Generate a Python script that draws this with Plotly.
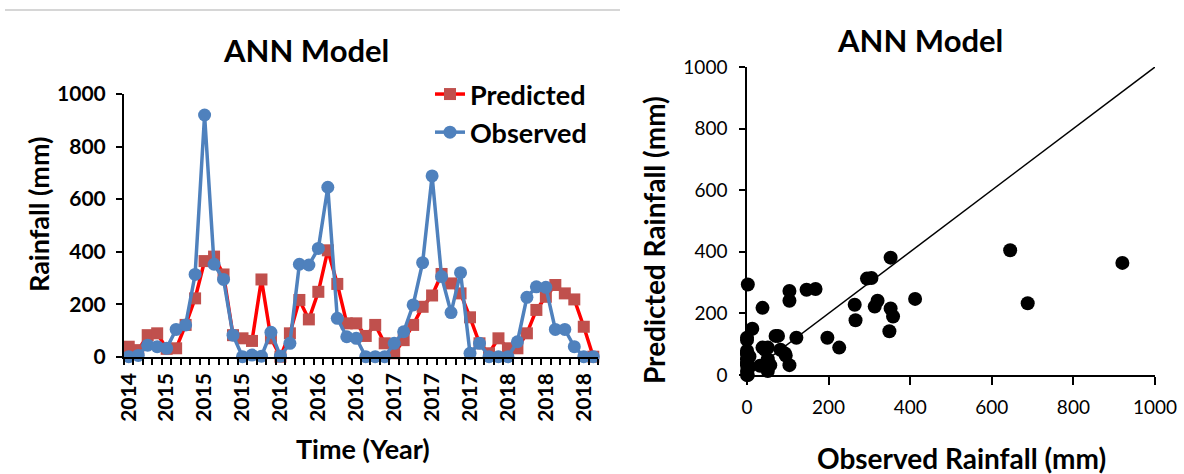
import plotly.graph_objects as go

W, H = 1184, 474

tick_labels = ["2014", "2015", "2015", "2015", "2016", "2016", "2016",
               "2017", "2017", "2017", "2018", "2018", "2018"]

observed = [0, 5, 44, 38, 32, 104, 121, 313, 920, 352,
            294, 82, 0, 6, 2, 93, 2, 51, 352, 349,
            412, 645, 146, 76, 70, 0, 0, 0, 51, 95,
            197, 358, 688, 305, 168, 320, 13, 51, 0, 0,
            0, 57, 226, 266, 264, 104, 104, 38, 0, 0]

predicted = [38, 25, 82, 89, 30, 32, 121, 222, 364, 381,
             313, 82, 70, 60, 294, 70, 0, 89, 216, 142,
             247, 405, 277, 127, 127, 79, 121, 51, 13, 63,
             121, 190, 233, 315, 279, 241, 150, 51, 13, 70,
             32, 32, 89, 178, 228, 273, 241, 218, 114, 0]

idx = list(range(len(observed)))
label_pos = idx[::4]

FONT = "Lato"


def px(xp):
    return xp / W


def py(yp):
    return 1 - yp / H


fig = go.Figure()
fig.add_trace(go.Scatter(
    x=idx, y=predicted, name="Predicted", mode="lines+markers",
    line=dict(color="#FF0000", width=3.5),
    marker=dict(symbol="square", size=12, color="#C0504D"),
    xaxis="x", yaxis="y", cliponaxis=False, legendgroup="p"))
fig.add_trace(go.Scatter(
    x=idx, y=observed, name="Observed", mode="lines+markers",
    line=dict(color="#4F81BD", width=3.5),
    marker=dict(symbol="circle", size=13, color="#4F81BD"),
    xaxis="x", yaxis="y", cliponaxis=False, legendgroup="o"))
fig.add_trace(go.Scatter(
    x=[0, 1000], y=[0, 1000], mode="lines",
    line=dict(color="black", width=1.5),
    xaxis="x2", yaxis="y2", showlegend=False))
fig.add_trace(go.Scatter(
    x=observed, y=predicted, mode="markers",
    marker=dict(color="black", size=14),
    xaxis="x2", yaxis="y2", showlegend=False, cliponaxis=False))

bold_tick = dict(family=FONT, size=21, color="black", weight="bold")
reg_tick = dict(family=FONT, size=19, color="black")

fig.update_layout(
    width=W, height=H,
    margin=dict(l=0, r=0, t=0, b=0, autoexpand=False),
    paper_bgcolor="white", plot_bgcolor="white",
    font=dict(family=FONT, color="black"),
    xaxis=dict(
        domain=[px(124), px(598)], range=[-0.5, 49.5], anchor="y",
        tickmode="array", tickvals=label_pos, ticktext=tick_labels,
        tickangle=-90, ticks="", tickfont=bold_tick, ticklabelstandoff=6,
        showline=True, linecolor="black", linewidth=2,
        showgrid=False, zeroline=False, automargin=False,
        minor=dict(ticks="outside", tickmode="linear", tick0=-0.5, dtick=1,
                   ticklen=6, tickwidth=2, tickcolor="black", showgrid=False)),
    yaxis=dict(
        domain=[py(356.7), py(94)], range=[0, 1000], anchor="x",
        tickmode="linear", tick0=0, dtick=200,
        ticks="outside", ticklen=6, tickwidth=2, tickcolor="black",
        tickfont=bold_tick, ticklabelstandoff=6,
        showline=True, linecolor="black", linewidth=2,
        showgrid=False, zeroline=False, automargin=False),
    xaxis2=dict(
        domain=[px(747), px(1155)], range=[0, 1000], anchor="y2",
        tickmode="linear", tick0=0, dtick=200,
        ticks="outside", ticklen=8, tickwidth=1.5, tickcolor="black",
        tickfont=reg_tick, ticklabelstandoff=6,
        showline=True, linecolor="black", linewidth=1.5,
        showgrid=False, zeroline=False, automargin=False),
    yaxis2=dict(
        domain=[py(375), py(67)], range=[0, 1000], anchor="x2",
        tickmode="linear", tick0=0, dtick=200,
        ticks="outside", ticklen=6, tickwidth=1.5, tickcolor="black",
        tickfont=reg_tick, ticklabelstandoff=8,
        showline=True, linecolor="black", linewidth=1.5,
        showgrid=False, zeroline=False, automargin=False),
    legend=dict(
        x=px(430), y=py(70), xanchor="left", yanchor="top",
        font=dict(family=FONT, size=27, color="black", weight="bold"),
        bgcolor="rgba(0,0,0,0)", tracegroupgap=0),
    shapes=[dict(type="line", xref="paper", yref="paper",
                 x0=px(5), x1=px(620), y0=py(10), y1=py(10),
                 line=dict(color="#C8C8C8", width=1.5))],
)

ann_font_t = dict(family=FONT, size=31, color="black", weight="bold")
ann_font_l = dict(family=FONT, size=27, color="black", weight="bold")
ann_font_r = dict(family=FONT, size=28, color="black", weight="bold")
annotations = [
    dict(text="ANN Model", x=px(306), y=py(50), font=ann_font_t),
    dict(text="ANN Model", x=px(920), y=py(40), font=ann_font_t),
    dict(text="Rainfall (mm)", x=px(38), y=py(214), font=ann_font_l, textangle=-90),
    dict(text="Time (Year)", x=px(363), y=py(448), font=ann_font_l),
    dict(text="Predicted Rainfall (mm)", x=px(654), y=py(240), font=ann_font_r, textangle=-90),
    dict(text="Observed Rainfall (mm)", x=px(961), y=py(458), font=ann_font_r),
]
for a in annotations:
    a.update(xref="paper", yref="paper", showarrow=False, xanchor="center", yanchor="middle")
fig.update_layout(annotations=annotations)

fig.write_html("out.html",
               config={"displayModeBar": False},
               post_script="document.body.style.margin='0';document.body.style.overflow='hidden';")
